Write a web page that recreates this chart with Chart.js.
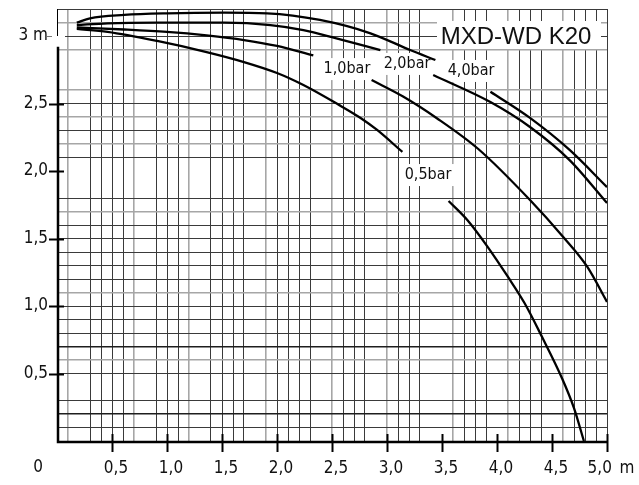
<!DOCTYPE html>
<html>
<head>
<meta charset="utf-8">
<script src="https://cdn.jsdelivr.net/npm/chart.js@4.4.1/dist/chart.umd.min.js"></script>
<style>
  html, body { margin: 0; padding: 0; background: #fff; }
  #wrap { width: 639px; height: 485px; position: relative; }
</style>
</head>
<body>
<div id="wrap"><canvas id="myChart"></canvas></div>
<script>
// pump curves (flow -> head), null = gap where the label sits
const q40 = [0.18, 0.30, 0.61, 1.00, 1.52, 1.91, 2.39, 2.85, 3.21, 3.44, 3.70, 3.94, 4.30, 4.66, 5.00];
const h40 = [3.099, 3.131, 3.156, 3.168, 3.173, 3.168, 3.119, 3.02, 2.896, 2.822, null, 2.587, 2.393, 2.156, 1.881];

const q20 = [0.18, 0.46, 0.91, 1.52, 1.94, 2.24, 2.54, 2.94, 3.18, 3.42, 3.94, 4.30, 4.66, 5.00];
const h20 = [3.081, 3.094, 3.099, 3.099, 3.081, 3.044, 2.983, 2.896, null, 2.711, 2.511, 2.326, 2.081, 1.763];

const q10 = [0.18, 0.61, 1.00, 1.36, 1.70, 2.00, 2.33, 2.60, 2.86, 3.15, 3.45, 3.83, 4.30, 4.60, 4.82, 5.00];
const h10 = [3.063, 3.048, 3.03, 3.004, 2.97, 2.926, 2.856, null, 2.674, 2.55, 2.393, 2.163, 1.785, 1.513, 1.291, 1.03];

const q05 = [0.18, 0.46, 0.91, 1.36, 1.70, 2.00, 2.24, 2.55, 2.76, 2.91, 3.14, 3.35, 3.56, 3.73, 3.91, 4.10, 4.25, 4.41, 4.59, 4.70, 4.79];
const h05 = [3.052, 3.03, 2.963, 2.881, 2.807, 2.726, 2.637, 2.496, 2.393, 2.304, 2.141, null, 1.778, 1.637, 1.444, 1.215, 1.022, 0.77, 0.467, 0.244, 0];

const curveNames = ['4,0bar', '2,0bar', '1,0bar', '0,5bar'];
const title = 'MXD-WD K20';

// axis labels
const xLabelVals = [0.5, 1.0, 1.5, 2.0, 2.5, 3.0, 3.5, 4.0, 4.5, 5.0];
const xLabels = ['0,5', '1,0', '1,5', '2,0', '2,5', '3,0', '3,5', '4,0', '4,5', '5,0\u2002m'];
const yLabelVals = [0.5, 1.0, 1.5, 2.0, 2.5, 3.0];
const yLabels = ['0,5', '1,0', '1,5', '2,0', '2,5', '3 m'];

// the printed grid is not regular, some lines missing / lighter
const xGrid = [0.1, 0.3, 0.4, 0.5, 0.6, 0.7, 0.9, 1.0, 1.1, 1.2, 1.4, 1.5, 1.6, 1.7, 1.9, 2.0, 2.1, 2.2, 2.3,
               2.5, 2.6, 2.7, 2.8, 3.0, 3.1, 3.2, 3.3, 3.6, 3.7, 3.8, 3.9, 4.1, 4.2, 4.3, 4.4, 4.6, 4.7, 4.8, 4.9, 5.0];
const xGridLight = [0.1, 0.7, 1.2, 1.9, 2.5, 3.0, 3.6, 4.1, 4.6];
const yGrid = [0.1, 0.2, 0.3, 0.5, 0.6, 0.7, 0.8, 0.9, 1.0, 1.1, 1.2, 1.3, 1.4, 1.5, 1.6, 1.7, 1.8,
               2.1, 2.2, 2.3, 2.4, 2.5, 2.6, 2.9, 3.0, 3.1, 3.2];
const yGridLight = [0.6, 1.1, 1.7, 2.2, 2.4, 2.6, 2.9, 3.1];
const yGridHeavy = [0.2, 0.7];

const FONT = "'DejaVu Sans Condensed', 'Liberation Sans Narrow', sans-serif";

const xTicks = [...new Set([...xGrid, ...xLabelVals])].sort((a, b) => a - b);
const yTicks = [...new Set([...yGrid, ...yLabelVals])].sort((a, b) => a - b);

const pts = (xs, ys) => xs.map((v, i) => ({ x: v, y: ys[i] }));

const gridStyle = (list, light, heavy) => ({
  color: c => {
    const v = c.tick.value;
    if (heavy.includes(v)) return '#1e1e1e';
    if (light.includes(v)) return '#a6a6a6';
    if (list.includes(v)) return '#3a3a3a';
    return 'rgba(0,0,0,0)';
  },
  lineWidth: c => {
    const v = c.tick.value;
    if (heavy.includes(v)) return 1.6;
    if (light.includes(v)) return 1.6;
    return 1;
  },
  tickColor: 'rgba(0,0,0,0)'
});

// text labels on the sheet (pixel spots converted to data units)
const notes = [
  { text: curveNames[0], x: 3.764, y: 2.741 },
  { text: curveNames[1], x: 3.182, y: 2.793 },
  { text: curveNames[2], x: 2.636, y: 2.755 },
  { text: curveNames[3], x: 3.373, y: 1.97 }
];

const sheet = {
  id: 'sheet',
  beforeDatasetsDraw(chart) {
    const { ctx, scales: { x, y } } = chart;
    ctx.save();
    // small white patch next to "3 m"
    ctx.fillStyle = '#fff';
    ctx.fillRect(x.getPixelForValue(0) - 2, y.getPixelForValue(3.0) - 2, 10, 14);

    // title box
    ctx.font = "24px 'Liberation Sans', Arial, sans-serif";
    ctx.fillStyle = '#fff';
    ctx.fillRect(437, 21, 164, 28);
    ctx.fillStyle = '#111';
    ctx.textAlign = 'center';
    ctx.textBaseline = 'middle';
    ctx.fillText(title, x.getPixelForValue(4.173), y.getPixelForValue(3.0) + 1);

    // curve labels
    ctx.font = '16px ' + FONT;
    notes.forEach(n => {
      const px = x.getPixelForValue(n.x), py = y.getPixelForValue(n.y);
      const w = ctx.measureText(n.text).width;
      ctx.fillStyle = '#fff';
      ctx.fillRect(px - w / 2 - 3, py - 11, w + 6, 22);
      ctx.fillStyle = '#111';
      ctx.fillText(n.text, px, py);
    });

    // axes
    const x0 = x.getPixelForValue(0);
    ctx.strokeStyle = '#000';
    ctx.lineWidth = 1;
    ctx.beginPath();
    ctx.moveTo(x0 + 0.5, chart.chartArea.top);
    ctx.lineTo(x0 + 0.5, y.getPixelForValue(3.0));
    ctx.stroke();
    ctx.lineWidth = 2.5;
    ctx.beginPath();
    ctx.moveTo(x0 + 1, y.getPixelForValue(2.92));
    ctx.lineTo(x0 + 1, y.getPixelForValue(0) + 1);
    ctx.lineTo(x.getPixelForValue(5.0), y.getPixelForValue(0) + 1);
    ctx.stroke();
    ctx.restore();
  },
  afterDraw(chart) {
    const { ctx, scales: { x, y } } = chart;
    const x0 = x.getPixelForValue(0), y0 = y.getPixelForValue(0);
    ctx.save();
    ctx.strokeStyle = '#000';
    ctx.lineWidth = 2;
    xLabelVals.forEach(v => {
      const px = Math.round(x.getPixelForValue(v)) + 0.5;
      ctx.beginPath(); ctx.moveTo(px, y0 - 7); ctx.lineTo(px, y0 + 11); ctx.stroke();
    });
    yLabelVals.forEach(v => {
      const py = Math.round(y.getPixelForValue(v)) + 0.5;
      if (v === 3.0) {
        ctx.lineWidth = 1; ctx.strokeStyle = '#777';
        ctx.beginPath(); ctx.moveTo(x0 - 10, py); ctx.lineTo(x0 - 5, py); ctx.stroke();
        return;
      }
      ctx.beginPath(); ctx.moveTo(x0 - 8, py); ctx.lineTo(x0 + 7, py); ctx.stroke();
    });
    ctx.fillStyle = '#111';
    ctx.font = '17px ' + FONT;
    ctx.textAlign = 'center';
    ctx.textBaseline = 'middle';
    ctx.fillText('0', 38, 468);
    ctx.restore();
  }
};

const line = (data) => ({
  data: data,
  showLine: true,
  borderColor: '#000',
  borderWidth: 2.3,
  pointRadius: 0,
  cubicInterpolationMode: 'monotone',
  spanGaps: false,
  fill: false
});

const ctx = document.getElementById('myChart').getContext('2d');
const myChart = new Chart(ctx, {
  type: 'scatter',
  data: {
    datasets: [
      line(pts(q40, h40)),
      line(pts(q20, h20)),
      line(pts(q10, h10)),
      line(pts(q05, h05))
    ]
  },
  options: {
    responsive: true,
    maintainAspectRatio: false,
    animation: false,
    layout: { padding: { top: 9, right: 32, left: 0, bottom: 0 } },
    plugins: { legend: { display: false }, tooltip: { enabled: false } },
    scales: {
      x: {
        type: 'linear', min: 0, max: 5,
        afterBuildTicks: s => { s.ticks = xTicks.map(v => ({ value: v })); },
        afterFit: s => { s.height = 44; s.paddingLeft = 0; s.paddingRight = 0; },
        grid: { ...gridStyle(xGrid, xGridLight, []), tickLength: 10 },
        border: { display: false },
        ticks: {
          autoSkip: false, maxRotation: 0, padding: 7, labelOffset: 4,
          color: '#111', font: { family: FONT, size: 17 },
          callback: v => { const i = xLabelVals.indexOf(v); return i < 0 ? '' : xLabels[i]; }
        }
      },
      y: {
        type: 'linear', min: 0, max: 3.2,
        afterBuildTicks: s => { s.ticks = yTicks.map(v => ({ value: v })); },
        afterFit: s => { s.width = 57; s.paddingTop = 0; s.paddingBottom = 0; },
        grid: { ...gridStyle(yGrid, yGridLight, yGridHeavy), tickLength: 8 },
        border: { display: false },
        ticks: {
          autoSkip: false, padding: 1,
          color: '#111', font: { family: FONT, size: 17 },
          callback: v => { const i = yLabelVals.indexOf(v); return i < 0 ? '' : yLabels[i]; }
        }
      }
    }
  },
  plugins: [sheet]
});
</script>
</body>
</html>
